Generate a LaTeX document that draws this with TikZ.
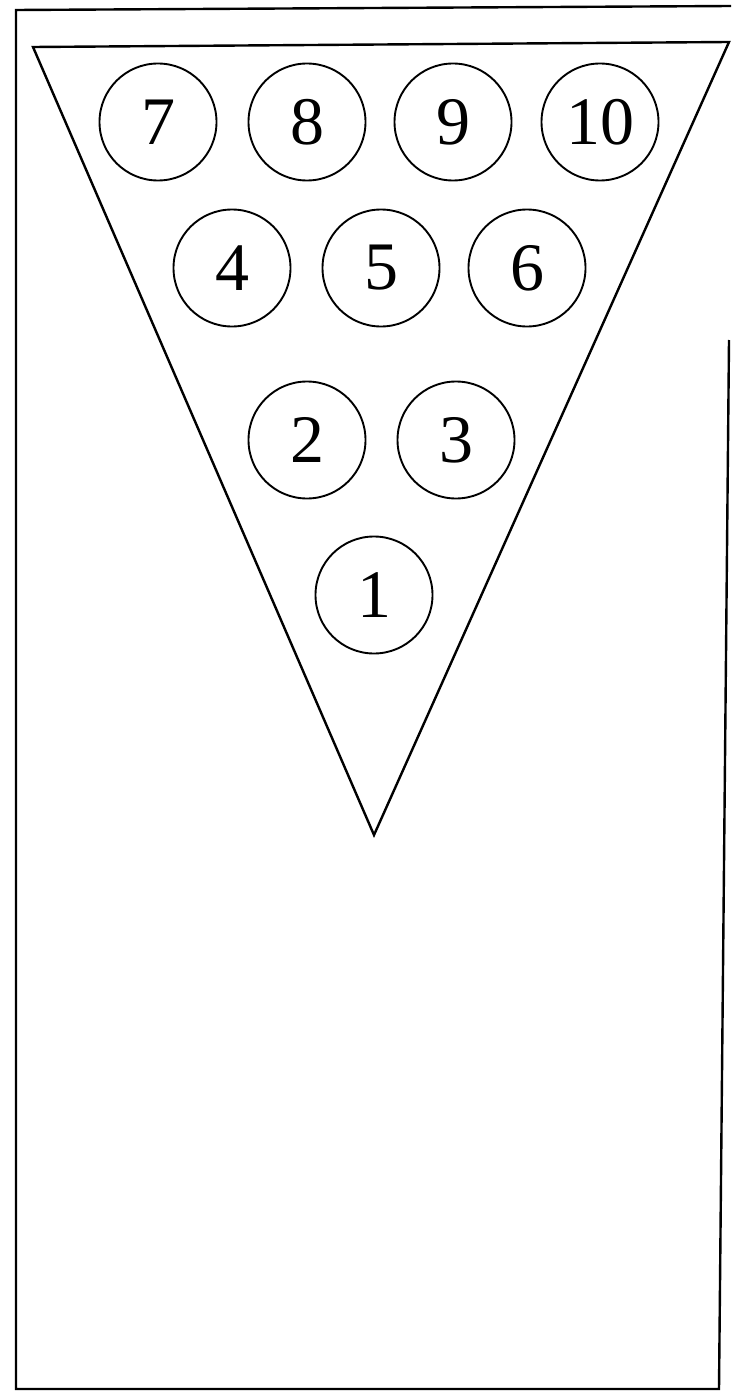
\documentclass[tikz,border=0pt]{standalone}
\usepackage{fontspec}
\setmainfont{Liberation Serif}
\tikzset{
  pin/.style={circle,draw,line width=1.9pt,minimum size=117pt,inner sep=0pt,
    font=\fontsize{68}{68}\selectfont},
}
\begin{document}
\begin{tikzpicture}[x=1pt,y=-1pt,line width=2.4pt]
  \useasboundingbox (0,0) rectangle (731,1391);
  % frame, open at the top right as in the scan
  \draw (729,340) -- (719,1389) -- (16,1389) -- (16,10) -- (731,6);
  % rack
  \draw[line join=miter] (33,47) -- (729,42) -- (374,835) -- cycle;

  \node[pin] (p7) at (158,122) {7};
  \node[pin] (p8) at (307,122) {8};
  \node[pin] (p9) at (453,122) {9};
  \node[pin] (p10) at (600,122) {10};

  \node[pin] (p4) at (232,268) {4};
  \node[pin] (p5) at (381,268) {5};
  \node[pin] (p6) at (527,268) {6};

  \node[pin] (p2) at (307,440) {2};
  \node[pin] (p3) at (456,440) {3};

  \node[pin] (p1) at (374,595) {1};
\end{tikzpicture}
\end{document}
